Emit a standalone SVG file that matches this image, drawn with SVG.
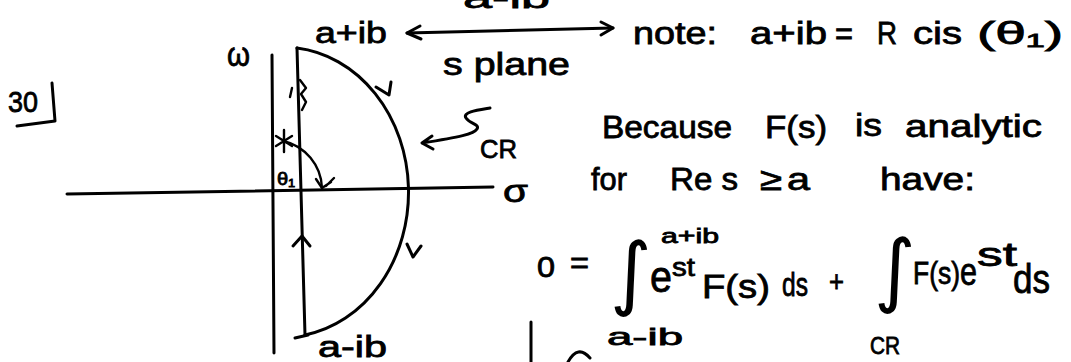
<svg xmlns="http://www.w3.org/2000/svg" width="1071" height="362" viewBox="0 0 1071 362">
<style>
.t{font-family:"Liberation Sans",Arial,sans-serif;fill:#000;stroke:#000;stroke-width:0.8px}
.ln{fill:none;stroke:#000;stroke-width:3;stroke-linecap:round;stroke-linejoin:round}
.thin{stroke-width:2.4}
.int{font-family:"DejaVu Sans",sans-serif;fill:#000;stroke:none}
</style>
<rect width="1071" height="362" fill="#fff"/>
<g id="problem-number">
<path class="ln" d="M52 83 L55 121 L17 126"/>
<text class="t" x="8" y="112" style="font-size:30px" textLength="30" lengthAdjust="spacingAndGlyphs">30</text>
</g>
<g id="axes">
<line class="ln" x1="272" y1="55" x2="274" y2="353"/>
<line class="ln" x1="67" y1="194" x2="493" y2="187"/>
<text class="t" x="227" y="66" style="font-size:34px" textLength="23" lengthAdjust="spacingAndGlyphs">ω</text>
<text class="t" x="503" y="202" style="font-size:32px" textLength="25" lengthAdjust="spacingAndGlyphs">σ</text>
</g>
<g id="contour">
<path class="ln" d="M297 48 L305 335"/>
<path class="ln" d="M295 338 L308 335"/>
<path class="ln" d="M297 48 A125 145 0 0 1 305 335"/>
<path class="ln" d="M376 87 L389 95 L391 82"/>
<path class="ln" d="M407 244 L413 257 L421 246"/>
<path class="ln" d="M293 246 L302 236 L310 246"/>
<path class="ln thin" d="M290 97 L292 88 M300 80 L306 88 L301 94 L306 102 L302 110"/>
</g>
<g id="angle">
<path class="ln thin" d="M283 141 A50 50 0 0 1 322 188"/>
<path class="ln thin" d="M316 179 L322 188 L331 182 M326 186 L334 178"/>
<path class="ln thin" d="M284 130 L284 152 M276 136 L292 146 M276 146 L292 136"/>
<text class="t" x="277" y="185" style="font-size:18px" textLength="18" lengthAdjust="spacingAndGlyphs">θ₁</text>
</g>
<g id="labels-contour">
<text class="t" x="315" y="43" style="font-size:30px" textLength="72" lengthAdjust="spacingAndGlyphs">a+ib</text>
<text class="t" x="318" y="357" style="font-size:30px" textLength="69" lengthAdjust="spacingAndGlyphs">a-ib</text>
<path class="ln" d="M490 108 C478 110 462 112 466 118 C470 124 480 124 477 129 C474 134 460 137 422 143 M432 136 L422 143 L433 149"/>
<text class="t" x="480" y="158" style="font-size:26px" textLength="37" lengthAdjust="spacingAndGlyphs">CR</text>
</g>
<g id="connectors">
<path class="ln" d="M407 33 L613 28"/>
<path class="ln" d="M420 26 L407 33 L421 39"/>
<path class="ln" d="M601 22 L613 28 L601 35"/>
</g>
<g id="top-labels">
<text class="t" x="463" y="8" style="font-size:30px" textLength="87" lengthAdjust="spacingAndGlyphs">a-ib</text>
<text class="t" x="443" y="75" style="font-size:32px" textLength="127" lengthAdjust="spacingAndGlyphs">s plane</text>
</g>
<g id="note">
<text class="t" x="633" y="44" style="font-size:32px" textLength="84" lengthAdjust="spacingAndGlyphs">note:</text>
<text class="t" x="750" y="44" style="font-size:32px" textLength="77" lengthAdjust="spacingAndGlyphs">a+ib</text>
<text class="t" x="835" y="44" style="font-size:32px" textLength="18" lengthAdjust="spacingAndGlyphs">=</text>
<text class="t" x="877" y="44" style="font-size:32px" textLength="20" lengthAdjust="spacingAndGlyphs">R</text>
<text class="t" x="913" y="44" style="font-size:32px" textLength="49" lengthAdjust="spacingAndGlyphs">cis</text>
<text class="t" x="977" y="44" style="font-size:32px" textLength="86" lengthAdjust="spacingAndGlyphs">(θ₁)</text>
</g>
<g id="statement">
<text class="t" x="602" y="138" style="font-size:32px" textLength="130" lengthAdjust="spacingAndGlyphs">Because</text>
<text class="t" x="765" y="138" style="font-size:32px" textLength="62" lengthAdjust="spacingAndGlyphs">F(s)</text>
<text class="t" x="855" y="136" style="font-size:32px" textLength="27" lengthAdjust="spacingAndGlyphs">is</text>
<text class="t" x="905" y="137" style="font-size:32px" textLength="137" lengthAdjust="spacingAndGlyphs">analytic</text>
<text class="t" x="591" y="190" style="font-size:32px" textLength="36" lengthAdjust="spacingAndGlyphs">for</text>
<text class="t" x="670" y="190" style="font-size:32px" textLength="68" lengthAdjust="spacingAndGlyphs">Re s</text>
<text class="t" x="760" y="190" style="font-size:32px" textLength="22" lengthAdjust="spacingAndGlyphs">≥</text>
<text class="t" x="787" y="190" style="font-size:32px" textLength="23" lengthAdjust="spacingAndGlyphs">a</text>
<text class="t" x="880" y="190" style="font-size:32px" textLength="95" lengthAdjust="spacingAndGlyphs">have:</text>
</g>
<g id="equation">
<text class="t" x="537" y="277" style="font-size:30px" textLength="18" lengthAdjust="spacingAndGlyphs">0</text>
<text class="t" x="570" y="273" style="font-size:30px" textLength="19" lengthAdjust="spacingAndGlyphs">=</text>
<text class="int" x="610" y="300" style="font-size:80px">∫</text>
<text class="t" x="661" y="243" style="font-size:20px" textLength="58" lengthAdjust="spacingAndGlyphs">a+ib</text>
<text class="t" x="650" y="292" style="font-size:44px" textLength="22" lengthAdjust="spacingAndGlyphs">e</text>
<text class="t" x="672" y="276" style="font-size:26px" textLength="23" lengthAdjust="spacingAndGlyphs">st</text>
<text class="t" x="702" y="298" style="font-size:34px" textLength="68" lengthAdjust="spacingAndGlyphs">F(s)</text>
<text class="t" x="782" y="296" style="font-size:34px" textLength="26" lengthAdjust="spacingAndGlyphs">ds</text>
<text class="t" x="829" y="292" style="font-size:30px" textLength="15" lengthAdjust="spacingAndGlyphs">+</text>
<text class="int" x="874" y="297" style="font-size:80px">∫</text>
<text class="t" x="913" y="284" style="font-size:32px" textLength="47" lengthAdjust="spacingAndGlyphs">F(s)</text>
<text class="t" x="960" y="285" style="font-size:38px" textLength="17" lengthAdjust="spacingAndGlyphs">e</text>
<text class="t" x="977" y="266" style="font-size:34px" textLength="40" lengthAdjust="spacingAndGlyphs">st</text>
<text class="t" x="1013" y="293" style="font-size:40px" textLength="37" lengthAdjust="spacingAndGlyphs">ds</text>
<text class="t" x="607" y="345" style="font-size:24px" textLength="76" lengthAdjust="spacingAndGlyphs">a-ib</text>
<text class="t" x="870" y="354" style="font-size:24px" textLength="30" lengthAdjust="spacingAndGlyphs">CR</text>
<line class="ln" x1="531" y1="322" x2="531" y2="362"/>
<path class="ln" d="M568 362 Q578 344 590 358"/>
</g>
</svg>
